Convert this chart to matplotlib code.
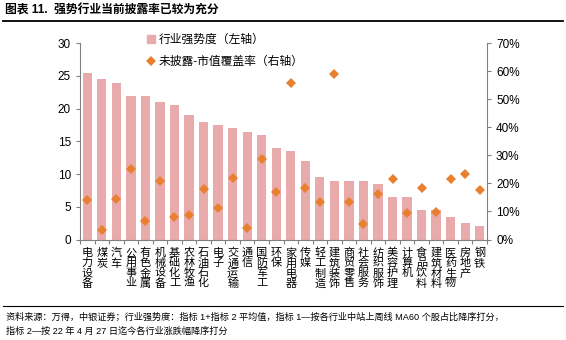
import numpy as np
import matplotlib
matplotlib.use('Agg')
import matplotlib.pyplot as plt
from matplotlib.lines import Line2D
from matplotlib.ticker import MultipleLocator, FuncFormatter

plt.rcParams['font.family'] = ['Liberation Sans', 'Noto Sans CJK SC', 'DejaVu Sans']

industries = ['电力设备', '煤炭', '汽车', '公用事业', '有色金属', '机械设备', '基础化工',
              '农林牧渔', '石油石化', '电子', '交通运输', '通信', '国防军工', '环保',
              '家用电器', '传媒', '轻工制造', '建筑装饰', '商贸零售', '社会服务',
              '纺织服饰', '美容护理', '计算机', '食品饮料', '建筑材料', '医药生物',
              '房地产', '钢铁']
strength = [25.5, 24.5, 24, 22, 22, 21, 20.5, 19, 18, 17.5, 17, 16.5, 16, 14,
            13.5, 12, 9.5, 9, 9, 9, 8.5, 6.5, 6.5, 4.5, 4.5, 3.5, 2.5, 2]
coverage = [14.1, 3.4, 14.5, 25.0, 6.7, 20.9, 7.9, 8.7, 18.0, 11.4, 21.8, 4.2, 28.8, 17.1,
            56.0, 18.5, 13.5, 59.0, 13.3, 5.5, 16.3, 21.6, 9.3, 18.3, 9.7, 21.6, 23.4, 17.7]

bar_color = '#E8AAAA'
dot_color = '#E8802F'
grey = '#808080'
W, H = 566, 340

fig = plt.figure(figsize=(W / 100, H / 100), dpi=100)
ax = fig.add_axes([80 / W, (H - 239.5) / H, (487 - 80) / W, (239.5 - 43.3) / H])
x = np.arange(len(industries))
ax.bar(x, strength, width=0.64, color=bar_color, zorder=2)
ax.set_xlim(-0.5, len(industries) - 0.5)
ax.set_ylim(0, 30)
ax.yaxis.set_major_locator(MultipleLocator(5))

ax2 = ax.twinx()
ax2.plot(x, coverage, linestyle='none', marker='D', markersize=5.5,
         color=dot_color, markeredgewidth=0, zorder=3)
ax2.set_ylim(0, 70)
ax2.yaxis.set_major_locator(MultipleLocator(10))
ax2.yaxis.set_major_formatter(FuncFormatter(lambda v, p: f'{v:.0f}%'))

for a in (ax, ax2):
    a.spines['top'].set_visible(False)
    a.tick_params(labelsize=8.5, color=grey, length=3, width=0.8)
ax.spines['right'].set_visible(False)
ax2.spines['left'].set_visible(False)
ax2.spines['bottom'].set_visible(False)
ax.spines['left'].set_color(grey)
ax.spines['bottom'].set_color(grey)
ax2.spines['right'].set_color(grey)

# category ticks sit between bars, labels stacked vertically
ax.set_xticks(np.arange(-0.5, len(industries)), minor=False)
ax.set_xticklabels([])
ax.set_xticks(x, minor=True)
ax.set_xticklabels(['\n'.join(n) for n in industries], minor=True,
                   fontsize=8, linespacing=1.0, va='top')
ax.tick_params(axis='x', which='minor', length=0, pad=6)
ax.tick_params(axis='x', which='major', length=3, direction='out')

handles = [Line2D([], [], linestyle='none', marker='s', markersize=6, color=bar_color),
           Line2D([], [], linestyle='none', marker='D', markersize=5.5, color=dot_color,
                  markeredgewidth=0)]
ax2.legend(handles, ['行业强势度（左轴）', '未披露-市值覆盖率（右轴）'], loc='upper left',
           bbox_to_anchor=(142 / W, 1 - 29 / H), bbox_transform=fig.transFigure,
           frameon=False, fontsize=8.5, handlelength=0.8, handletextpad=0.2,
           labelspacing=0.9, borderaxespad=0)

# header and footer
fig.text(5 / W, 1 - 11 / H, '图表 11.  强势行业当前披露率已较为充分', fontsize=8.5,
         fontweight='bold', va='center', ha='left')
fig.add_artist(Line2D([3 / W, 563 / W], [1 - 20.5 / H] * 2, color='black', lw=1.3))
fig.add_artist(Line2D([3 / W, 563 / W], [1 - 305.5 / H] * 2, color='black', lw=0.8))
fig.text(6 / W, 1 - 317 / H,
         '资料来源：万得，中银证券；行业强势度：指标 1+指标 2 平均值，指标 1—按各行业中站上周线 MA60 个股占比降序打分，',
         fontsize=6.6, va='center', ha='left')
fig.text(6 / W, 1 - 331 / H, '指标 2—按 22 年 4 月 27 日迄今各行业涨跌幅降序打分',
         fontsize=6.6, va='center', ha='left')

fig.savefig('out.png', dpi=100)
